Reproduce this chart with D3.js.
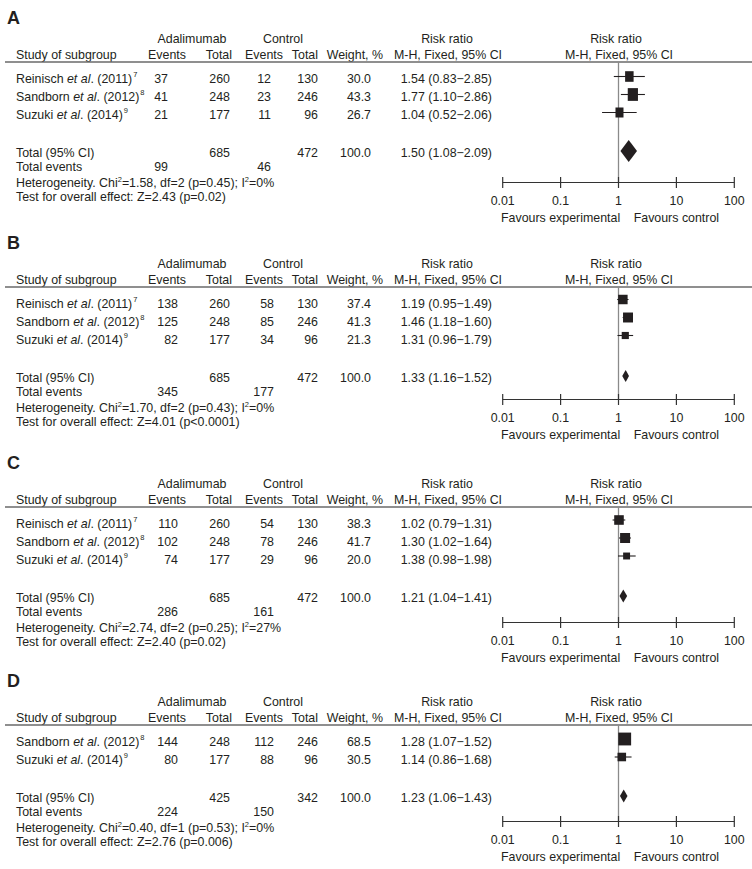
<!DOCTYPE html>
<html><head><meta charset="utf-8">
<script src="https://cdn.jsdelivr.net/npm/d3@7"></script>
<style>
body{margin:0;background:#fff}
svg{display:block}
text{font-family:"Liberation Sans",Arial,Helvetica,sans-serif;font-size:12.4px;fill:#231f20}
</style>
</head><body>
<svg id="c" width="752" height="869"></svg>
<script>
// ---------- data ----------
const panelLetters = ["A","B","C","D"];
const studyAuthors = ["Reinisch","Sandborn","Suzuki"];
const studyYears = ["2011","2012","2014"];
const studyRefs = ["7","8","9"];
const panelStudies = [[0,1,2],[0,1,2],[0,1,2],[1,2]];
const adaEvents = [[37,41,21],[138,125,82],[110,102,74],[144,80]];
const adaTotals = [[260,248,177],[260,248,177],[260,248,177],[248,177]];
const ctlEvents = [[12,23,11],[58,85,34],[54,78,29],[112,88]];
const ctlTotals = [[130,246,96],[130,246,96],[130,246,96],[246,96]];
const weights = [[30.0,43.3,26.7],[37.4,41.3,21.3],[38.3,41.7,20.0],[68.5,30.5]];
const rr = [[1.54,1.77,1.04],[1.19,1.46,1.31],[1.02,1.30,1.38],[1.28,1.14]];
const rrLow = [[0.83,1.10,0.52],[0.95,1.18,0.96],[0.79,1.02,0.98],[1.07,0.86]];
const rrHigh = [[2.85,2.86,2.06],[1.49,1.60,1.79],[1.31,1.64,1.98],[1.52,1.68]];
const totalAdaN = [685,685,685,425];
const totalCtlN = [472,472,472,342];
const totalAdaEvents = [99,345,286,224];
const totalCtlEvents = [46,177,161,150];
const totalWeight = [100.0,100.0,100.0,100.0];
const pooledRR = [1.50,1.33,1.21,1.23];
const pooledLow = [1.08,1.16,1.04,1.06];
const pooledHigh = [2.09,1.52,1.41,1.43];
const chi2 = ["1.58","1.70","2.74","0.40"];
const dfs = ["2","2","2","1"];
const hetP = ["0.45","0.43","0.25","0.53"];
const i2 = ["0","0","27","0"];
const zVal = ["2.43","4.01","2.40","2.76"];
const zP = ["p=0.02","p<0.0001","p=0.02","p=0.006"];
const axisTicks = [0.01,0.1,1,10,100];
const tickLabels = ["0.01","0.1","1","10","100"];

// ---------- layout ----------
const panelBase = [62,287,507,725];
const axisGap = [30,22,25,24];
const boxAspect = [1.25,1,1,1];
const markOff = [-2.5,-4.5,-4,-3];
const diamondHalf = [11,6,6.5,6.5];
const adaEvX = [168,178,178,178];
const ctlEvX = [271,274,274,274];

const svg = d3.select("#c");
const x = d3.scaleLog().domain([0.01,100]).range([502.7,734.3]);
const boxSize = d3.scaleSqrt().domain([0,100]).range([0,15.5]);
const f1 = d3.format(".1f"), f2 = d3.format(".2f");
const ink = "#231f20";
const ciText = (m,l,h) => `${f2(m)} (${f2(l)}\u2212${f2(h)})`;

panelLetters.forEach((L,p) => {
  const base = panelBase[p];
  const g = svg.append("g");
  const ids = panelStudies[p];
  const n = ids.length;
  const rowY = i => base + 17 + 18*i;
  const totY = rowY(n-1) + 37.5;
  const axY = totY + axisGap[p];
  const T = (xp, yc, s, anchor) => g.append("text").attr("x",xp).attr("y",yc+4.4)
      .attr("text-anchor",anchor||"start").text(s);

  g.append("text").attr("x",7).attr("y",base-38.5).style("font-size","18px")
   .style("font-weight","bold").text(L);

  // headers
  T(192, base-23, "Adalimumab", "middle");
  T(283, base-23, "Control", "middle");
  T(447, base-23, "Risk ratio", "middle");
  T(616, base-23, "Risk ratio", "middle");
  T(16, base-7, "Study of subgroup");
  T(167, base-7, "Events", "middle");
  T(232, base-7, "Total", "end");
  T(264, base-7, "Events", "middle");
  T(318, base-7, "Total", "end");
  T(383, base-7, "Weight, %", "end");
  T(448, base-7, "M-H, Fixed, 95% CI", "middle");
  T(619, base-7, "M-H, Fixed, 95% CI", "middle");

  g.append("line").attr("x1",5).attr("x2",752).attr("y1",base).attr("y2",base)
   .attr("stroke","#6a6a6a").attr("stroke-width",1.3);

  // vertical line of no effect
  g.append("line").attr("x1",x(1)).attr("x2",x(1)).attr("y1",base).attr("y2",axY)
   .attr("stroke","#8a8a8a").attr("stroke-width",1.3);

  ids.forEach((s,i) => {
    const y = rowY(i);
    const t = g.append("text").attr("x",16).attr("y",y+4.4);
    t.append("tspan").text(studyAuthors[s] + " ");
    t.append("tspan").style("font-style","italic").text("et al");
    t.append("tspan").text(`. (${studyYears[s]})`);
    t.append("tspan").attr("dy",-6.5).attr("dx",1).style("font-size","7.5px").text(studyRefs[s]);
    T(adaEvX[p], y, adaEvents[p][i], "end");
    T(230, y, adaTotals[p][i], "end");
    T(ctlEvX[p], y, ctlEvents[p][i], "end");
    T(318, y, ctlTotals[p][i], "end");
    T(371, y, f1(weights[p][i]), "end");
    T(492, y, ciText(rr[p][i], rrLow[p][i], rrHigh[p][i]), "end");

    const my = y + markOff[p];
    g.append("line").attr("x1",x(rrLow[p][i])).attr("x2",x(rrHigh[p][i]))
     .attr("y1",my).attr("y2",my).attr("stroke",ink).attr("stroke-width",1.1);
    const w = boxSize(weights[p][i]), h = w*boxAspect[p];
    g.append("rect").attr("x",x(rr[p][i])-w/2).attr("y",my-h/2)
     .attr("width",w).attr("height",h).attr("fill",ink);
  });

  // totals
  T(16, totY, "Total (95% CI)");
  T(230, totY, totalAdaN[p], "end");
  T(318, totY, totalCtlN[p], "end");
  T(371, totY, f1(totalWeight[p]), "end");
  T(492, totY, ciText(pooledRR[p], pooledLow[p], pooledHigh[p]), "end");
  const dy = totY - 1.5, dh = diamondHalf[p];
  g.append("path").attr("d",
     `M${x(pooledLow[p])},${dy} L${x(pooledRR[p])},${dy-dh} L${x(pooledHigh[p])},${dy} L${x(pooledRR[p])},${dy+dh} Z`)
   .attr("fill",ink);

  T(16, totY+14, "Total events");
  T(adaEvX[p], totY+14, totalAdaEvents[p], "end");
  T(ctlEvX[p], totY+14, totalCtlEvents[p], "end");

  const h1 = g.append("text").attr("x",16).attr("y",totY+30.5+4.4);
  h1.append("tspan").text("Heterogeneity. Chi");
  h1.append("tspan").attr("dy",-5.5).style("font-size","7.5px").text("2");
  h1.append("tspan").attr("dy",5.5).text(`=${chi2[p]}, df=${dfs[p]} (p=${hetP[p]}); I`);
  h1.append("tspan").attr("dy",-5.5).style("font-size","7.5px").text("2");
  h1.append("tspan").attr("dy",5.5).text(`=${i2[p]}%`);
  T(16, totY+44, `Test for overall effect: Z=${zVal[p]} (${zP[p]})`);

  // axis
  g.append("line").attr("x1",x(0.01)).attr("x2",x(100)).attr("y1",axY).attr("y2",axY)
   .attr("stroke","#333").attr("stroke-width",1.2);
  g.selectAll(null).data(axisTicks).join("line")
   .attr("x1",d=>x(d)).attr("x2",d=>x(d)).attr("y1",axY-5.5).attr("y2",axY+5.5)
   .attr("stroke","#333").attr("stroke-width",1.2);
  g.selectAll(null).data(axisTicks).join("text")
   .attr("x",d=>x(d)).attr("y",axY+18+4.4).attr("text-anchor","middle")
   .text((d,i)=>tickLabels[i]);
  T(x(0.1), axY+35, "Favours experimental", "middle");
  T(x(10), axY+35, "Favours control", "middle");
});
</script>
</body></html>
